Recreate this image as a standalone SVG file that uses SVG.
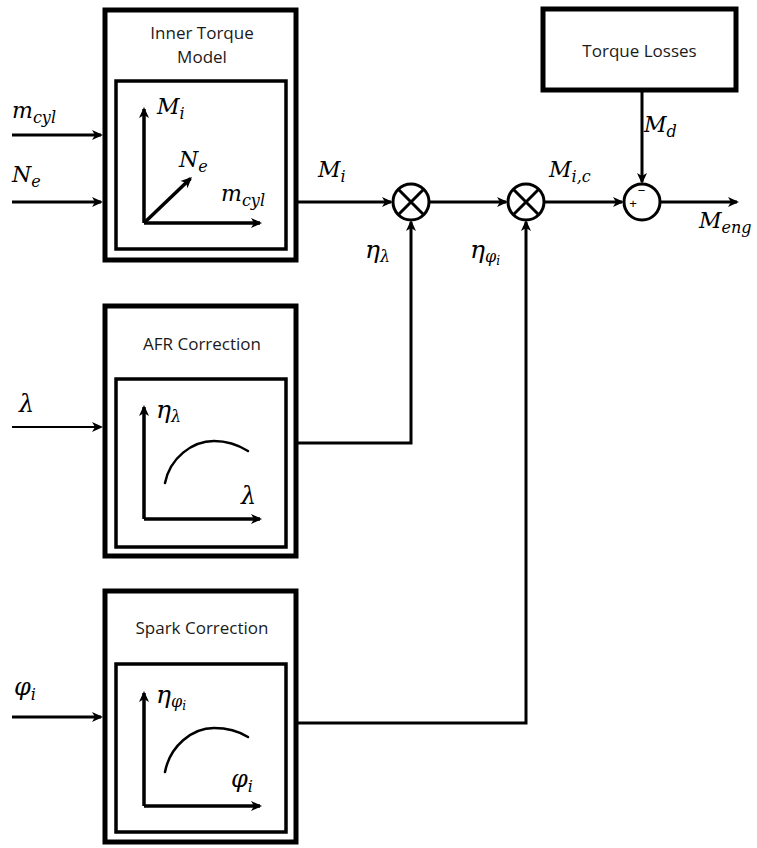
<svg xmlns="http://www.w3.org/2000/svg" width="757" height="848" viewBox="0 0 757 848">
<style>
.ob{fill:#fff;stroke:#000;stroke-width:5}
.ib{fill:none;stroke:#000;stroke-width:3.5}
.ax{fill:none;stroke:#000;stroke-width:3.5;marker-end:url(#ah)}
.cv{fill:none;stroke:#000;stroke-width:2.5;stroke-linecap:round}
.ln{fill:none;stroke:#000;stroke-width:3;marker-end:url(#ah)}
.t{font-family:"Open Sans","Liberation Sans",sans-serif;font-size:17px;fill:#1a1a1a;text-anchor:middle}
.m{font-family:"DejaVu Serif","Liberation Serif",serif;font-style:italic;font-size:22px;fill:#000}
.e{font-size:25px}
.g{font-size:24px}
.s{font-size:16px}
.ss{font-size:12px}
.c{fill:#fff;stroke:#000;stroke-width:3}
.x{stroke:#000;stroke-width:3}
.sg{font-family:"Liberation Sans",sans-serif;font-size:13px;fill:#000;text-anchor:middle}
</style>
<defs>
<marker id="ah" markerUnits="userSpaceOnUse" markerWidth="12" markerHeight="12" viewBox="0 0 12 12" refX="9" refY="6" orient="auto">
<path d="M0,1 L11,6 L0,11 L3,6 z" fill="#000"/>
</marker>
</defs>

<g id="inner-torque-model">
<rect class="ob" x="105" y="10" width="191" height="250"/>
<text class="t" x="202" y="39">Inner Torque</text>
<text class="t" x="202" y="63">Model</text>
<rect class="ib" x="116" y="81" width="170" height="168"/>
<path class="ax" d="M144,223 V109"/>
<path class="ax" d="M144,223 H260"/>
<path class="ax" d="M144,223 L190.5,178.5"/>
<text class="m" x="157" y="114">M<tspan class="s" dy="5">i</tspan></text>
<text class="m" x="179" y="167">N<tspan class="s" dy="5">e</tspan></text>
<text class="m" x="221" y="201">m<tspan class="s" dy="5">cyl</tspan></text>
</g>

<g id="afr-correction">
<rect class="ob" x="105" y="306" width="191" height="250"/>
<text class="t" x="202" y="350">AFR Correction</text>
<rect class="ib" x="116" y="379" width="170" height="168"/>
<path class="ax" d="M144,519 V407"/>
<path class="ax" d="M144,519 H260"/>
<path class="cv" d="M165,483 C170,458 192,441 214,441 C229,441 240,446 248,451"/>
<text class="m" x="156" y="418"><tspan class="e">η</tspan><tspan class="s" dy="4">λ</tspan></text>
<text class="m" x="241" y="504"><tspan class="g">λ</tspan></text>
</g>

<g id="spark-correction">
<rect class="ob" x="105" y="591" width="191" height="251"/>
<text class="t" x="202" y="634">Spark Correction</text>
<rect class="ib" x="116" y="664" width="170" height="168"/>
<path class="ax" d="M144,806 V693"/>
<path class="ax" d="M144,806 H260"/>
<path class="cv" d="M165,772 C170,746 192,728 214,728 C229,728 240,732 248,737"/>
<text class="m" x="156" y="703"><tspan class="e">η</tspan><tspan class="s" dy="4">φ</tspan><tspan class="ss" dy="3">i</tspan></text>
<text class="m" x="231" y="787"><tspan class="g">φ</tspan><tspan class="s" dy="5">i</tspan></text>
</g>

<g id="torque-losses">
<rect class="ob" x="543" y="9" width="193" height="81"/>
<text class="t" x="639.5" y="57">Torque Losses</text>
</g>

<g id="mult1">
<circle class="c" cx="411" cy="202" r="18"/>
<path class="x" d="M398.3,189.3 L423.7,214.7 M423.7,189.3 L398.3,214.7"/>
</g>

<g id="mult2">
<circle class="c" cx="526" cy="202" r="18"/>
<path class="x" d="M513.3,189.3 L538.7,214.7 M538.7,189.3 L513.3,214.7"/>
</g>

<g id="sum">
<circle class="c" cx="642" cy="202" r="18"/>
<text class="sg" x="633" y="208">+</text>
<text class="sg" x="641.5" y="195">−</text>
</g>

<g id="connectors">
<path class="ln" d="M12,135 H101"/>
<path class="ln" d="M12,202 H101"/>
<path class="ln" d="M12,427 H101" style="stroke-width:2"/>
<path class="ln" d="M12,717 H101"/>
<path class="ln" d="M298,202 H391"/>
<path class="ln" d="M429,202 H506"/>
<path class="ln" d="M544,202 H622"/>
<path class="ln" d="M660,202 H737"/>
<path class="ln" d="M642,90 V182"/>
<path class="ln" d="M298,443 H411 V222"/>
<path class="ln" d="M298,723 H526 V222"/>
</g>

<g id="labels">
<text class="m" x="12" y="118">m<tspan class="s" dy="5">cyl</tspan></text>
<text class="m" x="12" y="182">N<tspan class="s" dy="5">e</tspan></text>
<text class="m" x="19" y="412"><tspan class="g">λ</tspan></text>
<text class="m" x="14" y="695"><tspan class="g">φ</tspan><tspan class="s" dy="5">i</tspan></text>
<text class="m" x="318" y="177">M<tspan class="s" dy="5">i</tspan></text>
<text class="m" x="365" y="258"><tspan class="e">η</tspan><tspan class="s" dy="4">λ</tspan></text>
<text class="m" x="470" y="258"><tspan class="e">η</tspan><tspan class="s" dy="4">φ</tspan><tspan class="ss" dy="3">i</tspan></text>
<text class="m" x="549" y="177">M<tspan class="s" dy="5">i,c</tspan></text>
<text class="m" x="644" y="132">M<tspan class="s" dy="5">d</tspan></text>
<text class="m" x="699" y="228">M<tspan class="s" dy="5">eng</tspan></text>
</g>
</svg>
